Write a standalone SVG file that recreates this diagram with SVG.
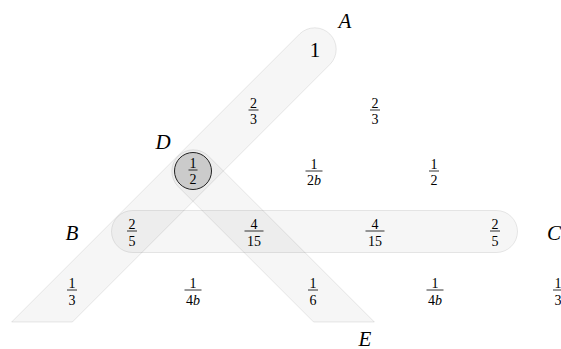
<svg xmlns="http://www.w3.org/2000/svg" width="561" height="349" viewBox="0 0 561 349">
<style>
.band{fill:#000;fill-opacity:0.035;stroke:#000;stroke-opacity:0.09;stroke-width:1}
.v{font-family:"Liberation Serif","DejaVu Serif",serif;font-size:14px;text-anchor:middle;fill:#000}
.big{font-family:"Liberation Serif","DejaVu Serif",serif;font-size:21px;text-anchor:middle;fill:#000}
.lab{font-family:"Liberation Serif","DejaVu Serif",serif;font-size:21px;font-style:italic;text-anchor:middle;fill:#000}
.bar{stroke:#000;stroke-width:0.8}
.it{font-style:italic}
</style>
<g id="connectors">
<path id="band-AB" class="band" d="M 299.8 33.8 A 21.5 21.5 0 0 1 330.2 64.2 L 72.4 322 L 11.6 322 Z"/>
<path id="band-DE" class="band" d="M 177.8 186.2 A 21.5 21.5 0 0 1 208.2 155.8 L 374.4 322 L 313.6 322 Z"/>
<rect id="band-BC" class="band" x="111.5" y="210.5" width="406" height="42" rx="21" ry="21"/>
</g>
<g id="node-D-circle">
<circle cx="193" cy="171" r="18.5" fill="#cbcbcb" stroke="#222" stroke-width="1"/>
<text class="v" x="193" y="167.5">1</text>
<line class="bar" x1="188.5" y1="170" x2="197.5" y2="170"/>
<text class="v" x="193" y="184">2</text>
</g>
<g id="labels">
<text id="label-A" class="lab" x="345" y="28">A</text>
<text id="label-D" class="lab" x="163" y="149">D</text>
<text id="label-B" class="lab" x="72" y="239.5">B</text>
<text id="label-C" class="lab" x="547" y="240" style="text-anchor:start">C</text>
<text id="label-E" class="lab" x="365" y="345.5">E</text>
</g>
<g id="node-1"><text class="big" x="315" y="56.5">1</text></g>
<g id="r2a"><text class="v" x="253.5" y="108">2</text><line class="bar" x1="248.5" y1="110" x2="258.5" y2="110"/><text class="v" x="253.5" y="124">3</text></g>
<g id="r2b"><text class="v" x="375" y="108">2</text><line class="bar" x1="370" y1="110" x2="380" y2="110"/><text class="v" x="375" y="124">3</text></g>
<g id="r3b"><text class="v" x="314" y="169">1</text><line class="bar" x1="305.5" y1="171" x2="322.5" y2="171"/><text class="v" x="314" y="185">2<tspan class="it">b</tspan></text></g>
<g id="r3c"><text class="v" x="434" y="169">1</text><line class="bar" x1="429" y1="171" x2="439" y2="171"/><text class="v" x="434" y="185">2</text></g>
<g id="r4a"><text class="v" x="132" y="229">2</text><line class="bar" x1="127" y1="231" x2="137" y2="231"/><text class="v" x="132" y="246">5</text></g>
<g id="r4b"><text class="v" x="254" y="229">4</text><line class="bar" x1="244.5" y1="231" x2="263.5" y2="231"/><text class="v" x="254" y="246">15</text></g>
<g id="r4c"><text class="v" x="375" y="229">4</text><line class="bar" x1="365.5" y1="231" x2="384.5" y2="231"/><text class="v" x="375" y="246">15</text></g>
<g id="r4d"><text class="v" x="495" y="229">2</text><line class="bar" x1="490" y1="231" x2="500" y2="231"/><text class="v" x="495" y="246">5</text></g>
<g id="r5a"><text class="v" x="72" y="288">1</text><line class="bar" x1="67" y1="290" x2="77" y2="290"/><text class="v" x="72" y="305">3</text></g>
<g id="r5b"><text class="v" x="193" y="288">1</text><line class="bar" x1="184.5" y1="290" x2="201.5" y2="290"/><text class="v" x="193" y="305">4<tspan class="it">b</tspan></text></g>
<g id="r5c"><text class="v" x="313" y="288">1</text><line class="bar" x1="308" y1="290" x2="318" y2="290"/><text class="v" x="313" y="305">6</text></g>
<g id="r5d"><text class="v" x="435" y="288">1</text><line class="bar" x1="426.5" y1="290" x2="443.5" y2="290"/><text class="v" x="435" y="305">4<tspan class="it">b</tspan></text></g>
<g id="r5e"><text class="v" x="558" y="288">1</text><line class="bar" x1="553" y1="290" x2="563" y2="290"/><text class="v" x="558" y="305">3</text></g>
</svg>
